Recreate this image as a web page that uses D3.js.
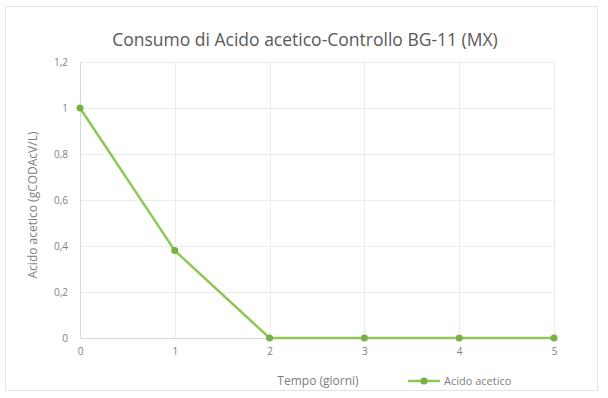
<!DOCTYPE html>
<html>
<head>
<meta charset="utf-8">
<script src="https://cdn.jsdelivr.net/npm/d3@7"></script>
<style>
  html, body { margin: 0; padding: 0; background: #fff; }
  svg { display: block; font-family: "Open Sans", Carlito, "Liberation Sans", sans-serif; }
</style>
</head>
<body>
<svg id="chart" width="608" height="398"></svg>
<script>
// Acetic acid consumption over time (control BG-11, MX)
const days = [0, 1, 2, 3, 4, 5];
const aceticAcid = [1, 0.38, 0, 0, 0, 0];
const yTicks = [0, 0.2, 0.4, 0.6, 0.8, 1, 1.2];
const xTicks = [0, 1, 2, 3, 4, 5];

const titleText = "Consumo di Acido acetico-Controllo BG-11 (MX)";
const xTitle = "Tempo (giorni)";
const yTitle = "Acido acetico (gCODAcV/L)";
const seriesName = "Acido acetico";

const svg = d3.select("#chart");
const lineColor = "#8fc757";
const markerColor = "#77b043";
const textColor = "#808080";

svg.append("rect").attr("x", 5.5).attr("y", 6.5).attr("width", 592).attr("height", 384)
  .attr("fill", "#fff").attr("stroke", "#e3e3e3").attr("stroke-width", 1);

const margin = { left: 80, right: 554, top: 62, bottom: 338 };
const x = d3.scaleLinear().domain([0, 5]).range([margin.left, margin.right]);
const y = d3.scaleLinear().domain([0, 1.2]).range([margin.bottom, margin.top]);

// grid
const grid = svg.append("g");
grid.selectAll("line.h").data(yTicks.filter(d => d > 0)).join("line")
  .attr("x1", margin.left).attr("x2", margin.right)
  .attr("y1", d => Math.round(y(d)) + 0.5).attr("y2", d => Math.round(y(d)) + 0.5)
  .attr("stroke", "#ececec").attr("stroke-width", 1);
grid.selectAll("line.v").data(xTicks.filter(d => d > 0)).join("line")
  .attr("y1", margin.top).attr("y2", margin.bottom)
  .attr("x1", d => Math.round(x(d)) + 0.5).attr("x2", d => Math.round(x(d)) + 0.5)
  .attr("stroke", "#ececec").attr("stroke-width", 1);

// axes
const yAxis = svg.append("g").attr("transform", `translate(${margin.left},0)`)
  .call(d3.axisLeft(y).tickValues(yTicks).tickSize(0).tickPadding(12)
    .tickFormat(d => d3.format("~g")(d).replace(".", ",")));
yAxis.select(".domain").attr("stroke", "#d9d9d9");
yAxis.selectAll("text").attr("fill", textColor).style("font-size", "10px")
  .style("font-family", "'Open Sans', sans-serif");

const xAxis = svg.append("g").attr("transform", `translate(0,${margin.bottom})`)
  .call(d3.axisBottom(x).tickValues(xTicks).tickSize(0).tickPadding(10)
    .tickFormat(d3.format("d")));
xAxis.select(".domain").attr("stroke", "#d9d9d9");
xAxis.selectAll("text").attr("fill", textColor).style("font-size", "10px")
  .style("font-family", "'Open Sans', sans-serif");

// series
const pts = days.map((d, i) => [d, aceticAcid[i]]);
svg.append("path").datum(pts)
  .attr("d", d3.line().x(d => x(d[0])).y(d => y(d[1])))
  .attr("fill", "none").attr("stroke", lineColor).attr("stroke-width", 2.5)
  .attr("stroke-linejoin", "round");
svg.selectAll("circle.pt").data(pts).join("circle")
  .attr("cx", d => x(d[0])).attr("cy", d => y(d[1])).attr("r", 3.5)
  .attr("fill", markerColor);

// title
svg.append("text").attr("x", 305).attr("y", 46).attr("text-anchor", "middle")
  .attr("fill", "#595959").style("font-size", "17.5px").text(titleText);

// axis titles
svg.append("text").attr("x", 318).attr("y", 385).attr("text-anchor", "middle")
  .attr("fill", textColor).style("font-size", "12px").text(xTitle);
svg.append("text").attr("transform", "translate(37,205) rotate(-90)")
  .attr("text-anchor", "middle").attr("fill", textColor).style("font-size", "12px").text(yTitle);

// legend
const lg = svg.append("g").attr("transform", "translate(408,381)");
lg.append("line").attr("x1", 0).attr("x2", 32).attr("y1", 0).attr("y2", 0)
  .attr("stroke", lineColor).attr("stroke-width", 2.5);
lg.append("circle").attr("cx", 16).attr("cy", 0).attr("r", 3.5).attr("fill", markerColor);
lg.append("text").attr("x", 36).attr("y", 4).attr("fill", textColor)
  .style("font-size", "11px").text(seriesName);
</script>
</body>
</html>
